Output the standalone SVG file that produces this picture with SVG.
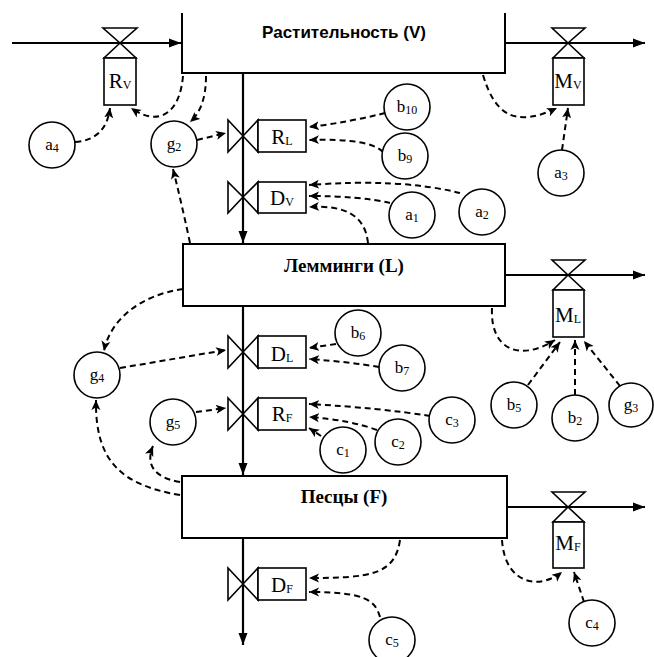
<svg xmlns="http://www.w3.org/2000/svg" width="654" height="657" viewBox="0 0 654 657">
<defs>
<style>
.flow{stroke:#000;stroke-width:2.2;fill:none}
.dash{stroke:#000;stroke-width:2;fill:none;stroke-dasharray:6 4}
.box{fill:#fff;stroke:#000;stroke-width:2}
.valve{fill:#fff;stroke:#000;stroke-width:1.6}
.circ{fill:#fff;stroke:#000;stroke-width:1.6}
.big{font-family:"Liberation Serif",serif;font-size:21px;text-anchor:middle}
.cl{font-family:"Liberation Serif",serif;font-size:17px;text-anchor:middle}
.sub{font-size:12px}
.title{font-family:"Liberation Serif",serif;font-size:19px;font-weight:bold;text-anchor:middle}
.titleS{font-family:"Liberation Sans",sans-serif;font-size:17px;font-weight:bold;text-anchor:middle}
</style>
<marker id="ah" markerUnits="userSpaceOnUse" markerWidth="13" markerHeight="10" refX="12" refY="5" orient="auto">
<path d="M0,0.5 L12,5 L0,9.5 z" fill="#000"/>
</marker>
<marker id="dh" markerUnits="userSpaceOnUse" markerWidth="11" markerHeight="10" refX="10" refY="5" orient="auto">
<path d="M0,0.5 L10,5 L0,9.5 L2.5,5 z" fill="#000"/>
</marker>
</defs>
<rect width="654" height="657" fill="#fff"/>

<g id="connectors">
<!-- solid flows -->
<path class="flow" d="M12 43 H181" marker-end="url(#ah)"/>
<path class="flow" d="M505 43 H645" marker-end="url(#ah)"/>
<path class="flow" d="M243 73 V243" marker-end="url(#ah)"/>
<path class="flow" d="M505 275 H645" marker-end="url(#ah)"/>
<path class="flow" d="M243 306 V475" marker-end="url(#ah)"/>
<path class="flow" d="M507 507 H645" marker-end="url(#ah)"/>
<path class="flow" d="M243 538 V645" marker-end="url(#ah)"/>
<!-- dashed information links -->
<path class="dash" d="M75 142 Q106 140 110 108" marker-end="url(#dh)"/>
<path class="dash" d="M183 76 C180 112 160 128 131 108" marker-end="url(#dh)"/>
<path class="dash" d="M206 76 Q206 108 190 122" marker-end="url(#dh)"/>
<path class="dash" d="M197 140 L226 133" marker-end="url(#dh)"/>
<path class="dash" d="M190 243 Q182 205 173 169" marker-end="url(#dh)"/>
<path class="dash" d="M385 113 Q350 122 309 127" marker-end="url(#dh)"/>
<path class="dash" d="M383 152 Q370 138 309 140" marker-end="url(#dh)"/>
<path class="dash" d="M460 193 Q400 178 309 185" marker-end="url(#dh)"/>
<path class="dash" d="M390 203 Q360 196 309 196" marker-end="url(#dh)"/>
<path class="dash" d="M368 243 C365 215 345 205 309 207" marker-end="url(#dh)"/>
<path class="dash" d="M483 75 C495 115 515 128 557 108" marker-end="url(#dh)"/>
<path class="dash" d="M562 150 L568 108" marker-end="url(#dh)"/>
<path class="dash" d="M183 289 C140 295 110 320 104 351" marker-end="url(#dh)"/>
<path class="dash" d="M120 368 L226 350" marker-end="url(#dh)"/>
<path class="dash" d="M336 344 L309 348" marker-end="url(#dh)"/>
<path class="dash" d="M379 367 Q350 362 309 359" marker-end="url(#dh)"/>
<path class="dash" d="M196 412 L226 408" marker-end="url(#dh)"/>
<path class="dash" d="M430 416 Q380 408 309 404" marker-end="url(#dh)"/>
<path class="dash" d="M377 430 Q350 420 309 417" marker-end="url(#dh)"/>
<path class="dash" d="M321 436 L309 428" marker-end="url(#dh)"/>
<path class="dash" d="M180 495 C120 485 95 460 96 400" marker-end="url(#dh)"/>
<path class="dash" d="M180 482 C155 478 145 465 153 446" marker-end="url(#dh)"/>
<path class="dash" d="M492 308 C490 350 520 362 555 340" marker-end="url(#dh)"/>
<path class="dash" d="M528 385 L560 342" marker-end="url(#dh)"/>
<path class="dash" d="M575 395 L575 340" marker-end="url(#dh)"/>
<path class="dash" d="M620 386 L584 341" marker-end="url(#dh)"/>
<path class="dash" d="M400 540 C395 575 370 578 309 578" marker-end="url(#dh)"/>
<path class="dash" d="M380 617 C375 600 365 592 309 592" marker-end="url(#dh)"/>
<path class="dash" d="M502 540 C505 585 540 590 562 572" marker-end="url(#dh)"/>
<path class="dash" d="M584 602 L574 572" marker-end="url(#dh)"/>
</g>

<g id="V">
<path d="M182 13 V73 H505 V13" fill="#fff" stroke="#000" stroke-width="2"/>
<text class="titleS" x="344" y="38">Растительность (V)</text>
</g>
<g id="L">
<rect class="box" x="183" y="244" width="322" height="62"/>
<text class="title" x="344" y="272">Лемминги (L)</text>
</g>
<g id="F">
<rect class="box" x="182" y="476" width="325" height="62"/>
<text class="title" x="344" y="503">Песцы (F)</text>
</g>

<!-- vertical valves -->
<g id="RV">
<path class="valve" d="M103 28 H137 L120 43 Z M104 58 H136 L120 43 Z"/>
<rect class="valve" x="104" y="58" width="32" height="47"/>
<text class="big" x="120" y="88">R<tspan class="sub" dy="1">V</tspan></text>
</g>
<g id="MV">
<path class="valve" d="M552 28 H585 L568 43 Z M553 58 H584 L568 43 Z"/>
<rect class="valve" x="553" y="58" width="31" height="47"/>
<text class="big" x="568" y="88" font-size="20">M<tspan class="sub" dy="1">V</tspan></text>
</g>
<g id="ML">
<path class="valve" d="M552 260 H585 L568 275 Z M553 290 H584 L568 275 Z"/>
<rect class="valve" x="553" y="290" width="31" height="47"/>
<text class="big" x="568" y="322">M<tspan class="sub" dy="1">L</tspan></text>
</g>
<g id="MF">
<path class="valve" d="M552 492 H585 L568 507 Z M553 522 H584 L568 507 Z"/>
<rect class="valve" x="553" y="522" width="31" height="46"/>
<text class="big" x="568" y="550">M<tspan class="sub" dy="1">F</tspan></text>
</g>

<!-- horizontal valves -->
<g id="RL">
<path class="valve" d="M228 120 V152 L243 136 Z M258 120 V152 L243 136 Z"/>
<rect class="valve" x="258" y="120" width="48" height="32"/>
<text class="big" x="282" y="144">R<tspan class="sub" dy="1">L</tspan></text>
</g>
<g id="DV">
<path class="valve" d="M228 182 V213 L243 197 Z M258 182 V213 L243 197 Z"/>
<rect class="valve" x="258" y="182" width="48" height="31"/>
<text class="big" x="282" y="205">D<tspan class="sub" dy="1">V</tspan></text>
</g>
<g id="DL">
<path class="valve" d="M228 336 V368 L243 352 Z M258 336 V368 L243 352 Z"/>
<rect class="valve" x="258" y="336" width="48" height="32"/>
<text class="big" x="282" y="361">D<tspan class="sub" dy="1">L</tspan></text>
</g>
<g id="RF">
<path class="valve" d="M228 398 V430 L243 414 Z M258 398 V430 L243 414 Z"/>
<rect class="valve" x="258" y="398" width="48" height="32"/>
<text class="big" x="282" y="421">R<tspan class="sub" dy="1">F</tspan></text>
</g>
<g id="DF">
<path class="valve" d="M228 568 V600 L243 584 Z M258 568 V600 L243 584 Z"/>
<rect class="valve" x="258" y="568" width="48" height="32"/>
<text class="big" x="282" y="592">D<tspan class="sub" dy="1">F</tspan></text>
</g>

<!-- auxiliary variables -->
<g id="a4"><circle class="circ" cx="52" cy="145" r="23"/><text class="cl" x="52" y="150">a<tspan class="sub" dy="2">4</tspan></text></g>
<g id="g2"><circle class="circ" cx="174" cy="144" r="23"/><text class="cl" x="174" y="149">g<tspan class="sub" dy="2">2</tspan></text></g>
<g id="b10"><circle class="circ" cx="407" cy="107" r="23"/><text class="cl" x="407" y="112">b<tspan class="sub" dy="2">10</tspan></text></g>
<g id="b9"><circle class="circ" cx="405" cy="156" r="23"/><text class="cl" x="405" y="161">b<tspan class="sub" dy="2">9</tspan></text></g>
<g id="a1"><circle class="circ" cx="412" cy="215" r="23"/><text class="cl" x="412" y="220">a<tspan class="sub" dy="2">1</tspan></text></g>
<g id="a2"><circle class="circ" cx="482" cy="212" r="23"/><text class="cl" x="482" y="217">a<tspan class="sub" dy="2">2</tspan></text></g>
<g id="a3"><circle class="circ" cx="561" cy="173" r="23"/><text class="cl" x="561" y="178">a<tspan class="sub" dy="2">3</tspan></text></g>
<g id="g4"><circle class="circ" cx="97" cy="375" r="23"/><text class="cl" x="97" y="380">g<tspan class="sub" dy="2">4</tspan></text></g>
<g id="g5"><circle class="circ" cx="173" cy="422" r="23"/><text class="cl" x="173" y="427">g<tspan class="sub" dy="2">5</tspan></text></g>
<g id="b6"><circle class="circ" cx="358" cy="333" r="23"/><text class="cl" x="358" y="338">b<tspan class="sub" dy="2">6</tspan></text></g>
<g id="b7"><circle class="circ" cx="402" cy="368" r="23"/><text class="cl" x="402" y="373">b<tspan class="sub" dy="2">7</tspan></text></g>
<g id="c1"><circle class="circ" cx="343" cy="450" r="23"/><text class="cl" x="343" y="455">c<tspan class="sub" dy="2">1</tspan></text></g>
<g id="c2"><circle class="circ" cx="398" cy="442" r="23"/><text class="cl" x="398" y="447">c<tspan class="sub" dy="2">2</tspan></text></g>
<g id="c3"><circle class="circ" cx="452" cy="420" r="23"/><text class="cl" x="452" y="425">c<tspan class="sub" dy="2">3</tspan></text></g>
<g id="b5"><circle class="circ" cx="514" cy="405" r="23"/><text class="cl" x="514" y="410">b<tspan class="sub" dy="2">5</tspan></text></g>
<g id="b2"><circle class="circ" cx="575" cy="418" r="23"/><text class="cl" x="575" y="423">b<tspan class="sub" dy="2">2</tspan></text></g>
<g id="g3"><circle class="circ" cx="631" cy="405" r="22"/><text class="cl" x="631" y="410">g<tspan class="sub" dy="2">3</tspan></text></g>
<g id="c5"><circle class="circ" cx="392" cy="640" r="23"/><text class="cl" x="392" y="645">c<tspan class="sub" dy="2">5</tspan></text></g>
<g id="c4"><circle class="circ" cx="592" cy="623" r="23"/><text class="cl" x="592" y="628">c<tspan class="sub" dy="2">4</tspan></text></g>
</svg>
